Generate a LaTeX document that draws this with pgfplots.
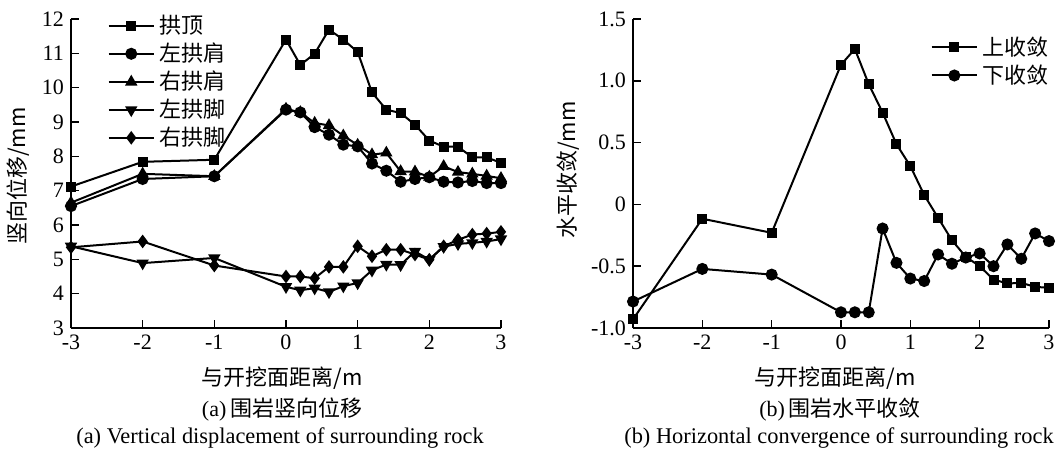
\documentclass[border=0pt]{standalone}
\usepackage{fontspec}
\setmainfont{Liberation Serif}
\newfontfamily\cjk{Noto Sans CJK SC}
\usepackage{pgfplots}
\pgfplotsset{compat=1.18}

% vertical displacement, mm
\pgfplotstableread{
x    gd     zjj    yjj    zjja   yjja
-3   7.12   6.55   6.65   5.38   5.35
-2   7.84   7.34   7.49   4.89   5.52
-1   7.90   7.42   7.42   5.04   4.82
0    11.40  9.36   9.38   4.20   4.50
0.2  10.66  9.28   9.28   4.10   4.50
0.4  10.99  8.85   8.97   4.16   4.45
0.6  11.69  8.63   8.90   4.05   4.78
0.8  11.40  8.34   8.60   4.22   4.78
1.0  11.04  8.29   8.33   4.31   5.38
1.2  9.86   7.79   8.05   4.68   5.09
1.4  9.36   7.58   8.10   4.85   5.28
1.6  9.26   7.26   7.56   4.84   5.28
1.8  8.92   7.34   7.55   5.23   5.14
2.0  8.46   7.39   7.40   4.99   4.99
2.2  8.28   7.26   7.71   5.37   5.38
2.4  8.28   7.24   7.54   5.45   5.57
2.6  7.97   7.28   7.49   5.48   5.72
2.8  7.97   7.22   7.43   5.52   5.75
3.0  7.81   7.22   7.36   5.59   5.80
}\vdisp

% horizontal convergence, mm
\pgfplotstableread{
x    up      down
-3   -0.93   -0.786
-2   -0.116  -0.522
-1   -0.23   -0.568
0    1.13    -0.873
0.2  1.257   -0.873
0.4  0.973   -0.873
0.6  0.743   -0.195
0.8  0.487   -0.473
1.0  0.31    -0.60
1.2  0.076   -0.62
1.4  -0.108  -0.405
1.6  -0.29   -0.48
1.8  -0.424  -0.43
2.0  -0.50   -0.397
2.2  -0.608  -0.50
2.4  -0.64   -0.324
2.6  -0.635  -0.44
2.8  -0.667  -0.235
3.0  -0.675  -0.297
}\hconv

\pgfplotsset{
  base/.style={
    scale only axis,
    axis x line*=bottom, axis y line*=left,
    axis line style={line width=0.8pt,-},
    tick align=inside, major tick length=4pt,
    tick style={line width=0.8pt,black},
    xmin=-3, xmax=3, xtick={-3,...,3},
    xticklabels={-3,-2,-1,0,1,2,3},
    tick label style={font=\fontsize{11}{12}\selectfont},
    /pgf/number format/assume math mode=true,
    legend cell align=left,
    legend style={draw=none, fill=none, font=\cjk\fontsize{11}{12}\selectfont,
      row sep=-0.8pt},
    legend image code/.code={\draw[mark repeat=2,mark phase=2]
      plot coordinates {(0cm,0cm)(0.4cm,0cm)(0.8cm,0cm)};},
    every axis plot/.append style={black, line width=1pt, mark options={solid}},
  }
}

\begin{document}
\begin{tikzpicture}
\useasboundingbox (0,0) rectangle (528.5pt,-226.5pt);

\begin{axis}[base,
  at={(35.5pt,-164pt)}, anchor=south west,
  width=215pt, height=154.5pt,
  ymin=3, ymax=12, ytick={3,...,12},
  yticklabels={3,4,5,6,7,8,9,10,11,12},
  legend style={at={(0.07,1.04)}, anchor=north west},
]
\addplot[mark=square*, mark size=2pt] table[y=gd] {\vdisp};
\addlegendentry{拱顶}
\addplot[mark=*, mark size=2.5pt] table[y=zjj] {\vdisp};
\addlegendentry{左拱肩}
\addplot[mark=triangle*, mark size=2.6pt] table[y=yjj] {\vdisp};
\addlegendentry{右拱肩}
\addplot[mark=triangle*, mark size=2.6pt, mark options={rotate=180}] table[y=zjja] {\vdisp};
\addlegendentry{左拱脚}
\addplot[mark=diamond*, mark size=2.6pt] table[y=yjja] {\vdisp};
\addlegendentry{右拱脚}
\end{axis}

\begin{axis}[base,
  at={(316.5pt,-164pt)}, anchor=south west,
  width=208pt, height=154.5pt,
  ymin=-1, ymax=1.5, ytick={-1,-0.5,0,0.5,1,1.5},
  yticklabels={-1.0,-0.5,0,0.5,1.0,1.5},
  legend style={at={(0.70,0.97)}, anchor=north west},
]
\addplot[mark=square*, mark size=2pt] table[y=up] {\hconv};
\addlegendentry{上收敛}
\addplot[mark=*, mark size=2.5pt] table[y=down] {\hconv};
\addlegendentry{下收敛}
\end{axis}

\begin{scope}[every node/.style={inner sep=0pt}]
\node[rotate=90] at (9pt,-88pt) {\cjk\fontsize{11}{12}\selectfont 竖向位移/mm};
\node[rotate=90] at (284pt,-85pt) {\cjk\fontsize{11}{12}\selectfont 水平收敛/mm};
\node at (141pt,-189pt) {\cjk\fontsize{11}{12}\selectfont 与开挖面距离/m};
\node at (417.5pt,-189pt) {\cjk\fontsize{11}{12}\selectfont 与开挖面距离/m};
\node at (141pt,-205pt) {\fontsize{11}{12}\selectfont (a)\,{\cjk 围岩竖向位移}};
\node at (420pt,-205pt) {\fontsize{11}{12}\selectfont (b)\,{\cjk 围岩水平收敛}};
\node at (140pt,-219pt) {\fontsize{11.2}{12}\selectfont (a) Vertical displacement of surrounding rock};
\node at (419.5pt,-219pt) {\fontsize{11.2}{12}\selectfont (b) Horizontal convergence of surrounding rock};
\end{scope}
\end{tikzpicture}
\end{document}
